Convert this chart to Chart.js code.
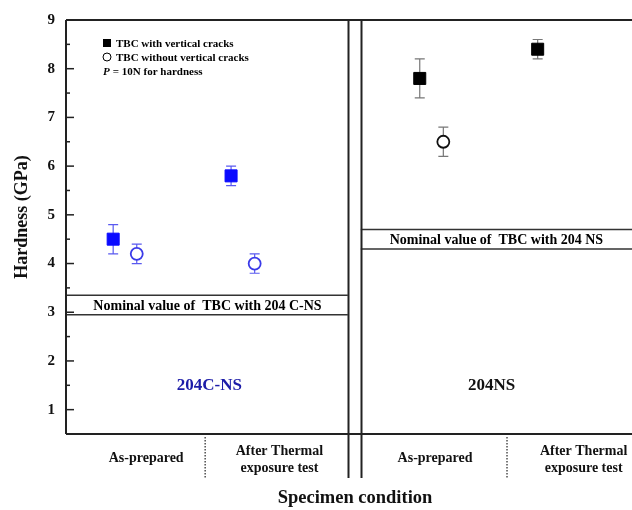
<!DOCTYPE html>
<html>
<head>
<meta charset="utf-8">
<script src="https://cdn.jsdelivr.net/npm/chart.js@4.4.1/dist/chart.umd.min.js"></script>
<style>
  html, body { margin: 0; padding: 0; background: #fff; }
  #wrap { width: 632px; height: 510px; }
</style>
</head>
<body>
<div id="wrap"><canvas id="chart"></canvas></div>
<script>
// datos
const specimens = ['204C-NS', '204NS'];
const conditions = ['As-prepared', 'After Thermal|exposure test'];
const withCracks = [4.5, 5.8, 7.8, 8.4];
const withCracksErr = [0.3, 0.2, 0.4, 0.2];
const withoutCracks = [4.2, 4.0, 6.5, null];
const withoutCracksErr = [0.2, 0.2, 0.3, null];
const nominal204CNS = [2.95, 3.35];
const nominal204NS = [4.3, 4.7];
const yTicks = [1, 2, 3, 4, 5, 6, 7, 8, 9];

// posiciones en el eje x (layout)
const groupX = [0.5, 1.5, 3.1, 4.1];
const seriesShift = 0.1;
const panels = [{ from: 0, to: 2.39 }, { from: 2.5, to: 4.8 }];
const dottedX = [1.18, 3.74];
const condLabelX = [0.68, 1.81, 3.13, 4.39];
const specLabelX = [1.216, 3.61];
const nominalLabelX = [1.2, 3.65];

const SERIF = '"Liberation Serif", "Times New Roman", serif';
const BLUE = '#0a0aff';
const panelColor = i => (i < 2 ? BLUE : '#000');

const crackPts = withCracks.map((v, i) => ({ x: groupX[i] - seriesShift, y: v, e: withCracksErr[i] }));
const noCrackPts = withoutCracks
    .map((v, i) => (v == null ? null : { x: groupX[i] + seriesShift, y: v, e: withoutCracksErr[i] }))
    .filter(p => p);

const decor = {
    id: 'decor',
    beforeDatasetsDraw(chart) {
        const { ctx, chartArea: a, scales: { x, y } } = chart;
        ctx.save();
        // bandas de valor nominal
        ctx.strokeStyle = '#333';
        ctx.lineWidth = 1.5;
        [[nominal204CNS, panels[0]], [nominal204NS, panels[1]]].forEach(([b, p], k) => {
            const x0 = x.getPixelForValue(p.from), x1 = x.getPixelForValue(p.to);
            const y0 = y.getPixelForValue(b[0]), y1 = y.getPixelForValue(b[1]);
            ctx.beginPath();
            ctx.moveTo(x0, y0); ctx.lineTo(x1, y0);
            ctx.moveTo(x0, y1); ctx.lineTo(x1, y1);
            ctx.stroke();
            ctx.fillStyle = '#000';
            ctx.font = 'bold 14px ' + SERIF;
            ctx.textAlign = 'center';
            ctx.textBaseline = 'middle';
            ctx.fillText('Nominal value of  TBC with ' + (k === 0 ? '204 C-NS' : '204 NS'),
                x.getPixelForValue(nominalLabelX[k]), (y0 + y1) / 2 + 1);
        });

        // error bars
        const drawErr = (pts, colFn) => {
            pts.forEach((p, i) => {
                const px = x.getPixelForValue(p.x);
                const yt = y.getPixelForValue(p.y + p.e), yb = y.getPixelForValue(p.y - p.e);
                ctx.strokeStyle = colFn(p);
                ctx.lineWidth = 1.2;
                ctx.beginPath();
                ctx.moveTo(px, yt); ctx.lineTo(px, yb);
                ctx.moveTo(px - 5, yt); ctx.lineTo(px + 5, yt);
                ctx.moveTo(px - 5, yb); ctx.lineTo(px + 5, yb);
                ctx.stroke();
            });
        };
        drawErr(crackPts, p => (p.x < 2.4 ? '#5a5af0' : '#777'));
        drawErr(noCrackPts, p => (p.x < 2.4 ? '#5a5af0' : '#777'));
        ctx.restore();
    },
    afterDraw(chart) {
        const { ctx, chartArea: a, scales: { x, y } } = chart;
        ctx.save();
        ctx.strokeStyle = '#222';
        ctx.lineWidth = 2;
        // marco: arriba y abajo
        ctx.beginPath();
        ctx.moveTo(a.left, a.top); ctx.lineTo(a.right, a.top);
        ctx.moveTo(a.left, a.bottom); ctx.lineTo(a.right, a.bottom);
        ctx.moveTo(a.left, a.top); ctx.lineTo(a.left, a.bottom);
        ctx.stroke();
        // doble linea divisoria
        [panels[0].to, panels[1].from].forEach(v => {
            const px = Math.round(x.getPixelForValue(v)) + 0.5;
            ctx.beginPath();
            ctx.moveTo(px, a.top); ctx.lineTo(px, a.bottom + 44);
            ctx.stroke();
        });
        // ticks hacia dentro
        ctx.lineWidth = 1.5;
        for (let v = 1; v <= 9; v += 0.5) {
            const py = y.getPixelForValue(v);
            const len = Number.isInteger(v) ? 8 : 4;
            ctx.beginPath();
            ctx.moveTo(a.left, py); ctx.lineTo(a.left + len, py);
            ctx.stroke();
        }
        // separadores punteados
        ctx.lineWidth = 1.2;
        ctx.setLineDash([1.5, 1.5]);
        dottedX.forEach(v => {
            const px = x.getPixelForValue(v);
            ctx.beginPath();
            ctx.moveTo(px, a.bottom + 3); ctx.lineTo(px, a.bottom + 44);
            ctx.stroke();
        });
        ctx.setLineDash([]);

        // etiquetas de condicion
        ctx.fillStyle = '#111';
        ctx.textAlign = 'center';
        ctx.textBaseline = 'middle';
        ctx.font = 'bold 14px ' + SERIF;
        condLabelX.forEach((v, i) => {
            const lines = conditions[i % 2].split('|');
            const px = x.getPixelForValue(v);
            if (lines.length === 1) {
                ctx.fillText(lines[0], px, a.bottom + 24);
            } else {
                ctx.fillText(lines[0], px, a.bottom + 17);
                ctx.fillText(lines[1], px, a.bottom + 34);
            }
        });
        ctx.font = 'bold 18.5px ' + SERIF;
        ctx.fillText('Specimen condition', 355, a.bottom + 64);

        // titulo eje y
        ctx.save();
        ctx.translate(22, 217);
        ctx.rotate(-Math.PI / 2);
        ctx.font = 'bold 18px ' + SERIF;
        ctx.fillText('Hardness (GPa)', 0, 0);
        ctx.restore();

        // nombres de las muestras
        ctx.font = 'bold 17px ' + SERIF;
        specimens.forEach((s, i) => {
            ctx.fillStyle = i === 0 ? '#1c1ca8' : '#111';
            ctx.fillText(s, x.getPixelForValue(specLabelX[i]), y.getPixelForValue(1.5));
        });

        // leyenda
        const lx = a.left + 41, ly = a.top + 23;
        ctx.fillStyle = '#000';
        ctx.fillRect(lx - 4, ly - 4, 8, 8);
        ctx.strokeStyle = '#000';
        ctx.lineWidth = 1;
        ctx.beginPath();
        ctx.arc(lx, ly + 14, 4, 0, Math.PI * 2);
        ctx.stroke();
        ctx.textAlign = 'left';
        ctx.font = 'bold 11px ' + SERIF;
        ctx.fillText('TBC with vertical cracks', lx + 9, ly + 1);
        ctx.fillText('TBC without vertical cracks', lx + 9, ly + 15);
        ctx.font = 'bold italic 11px ' + SERIF;
        ctx.fillText('P', lx - 4, ly + 29);
        ctx.font = 'bold 11px ' + SERIF;
        ctx.fillText(' = 10N for hardness', lx + 3, ly + 29);
        ctx.restore();
    }
};

new Chart(document.getElementById('chart'), {
    type: 'scatter',
    data: {
        datasets: [
            {
                label: 'TBC with vertical cracks',
                data: crackPts,
                pointStyle: 'rect',
                pointRadius: 8.5,
                pointBackgroundColor: crackPts.map((p, i) => panelColor(i)),
                pointBorderColor: crackPts.map((p, i) => panelColor(i)),
                pointBorderWidth: 1
            },
            {
                label: 'TBC without vertical cracks',
                data: noCrackPts,
                pointStyle: 'circle',
                pointRadius: 6,
                pointBackgroundColor: '#fff',
                pointBorderColor: noCrackPts.map((p, i) => (i < 2 ? '#3a3ae8' : '#111')),
                pointBorderWidth: 1.8
            }
        ]
    },
    options: {
        responsive: true,
        maintainAspectRatio: false,
        animation: false,
        layout: { autoPadding: false, padding: { top: 20, right: 0, bottom: 76, left: 0 } },
        plugins: { legend: { display: false }, tooltip: { enabled: false } },
        scales: {
            x: { type: 'linear', min: 0, max: 4.8, display: false },
            y: {
                min: 0.5,
                max: 9,
                afterFit: s => { s.width = 66; },
                grid: { display: false, drawTicks: false },
                border: { display: false },
                ticks: {
                    stepSize: 0.5,
                    padding: 11,
                    color: '#111',
                    font: { family: SERIF, weight: 'bold', size: 15 },
                    callback: v => (yTicks.includes(v) ? v : '')
                },
                title: { display: false }
            }
        }
    },
    plugins: [decor]
});
</script>
</body>
</html>
